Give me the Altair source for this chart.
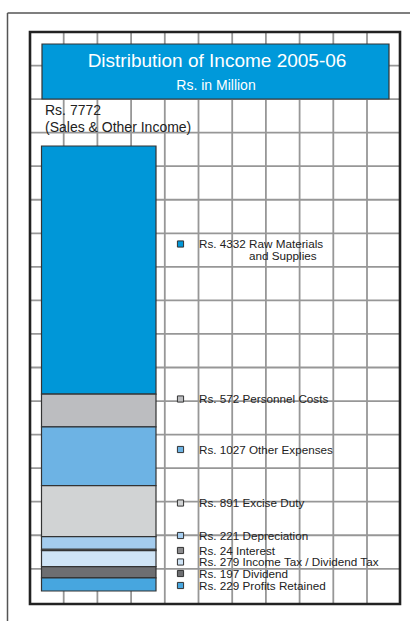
import altair as alt
import pandas as pd

# ---------------- data ----------------
names = ["Raw Materials", "Personnel Costs", "Other Expenses", "Excise Duty",
         "Depreciation", "Interest", "Income Tax / Dividend Tax", "Dividend",
         "Profits Retained"]
values = [4332, 572, 1027, 891, 221, 24, 279, 197, 229]
colors = ["#0097D8", "#BCBDC0", "#6DB3E4", "#D1D3D4", "#A4CCEE",
          "#8C8C8E", "#CFE4F6", "#6D6E71", "#47A6DF"]
total = 7772
title_text = "Distribution of Income 2005-06"
subtitle_text = "Rs. in Million"
total_lines = ["Rs. 7772", "(Sales & Other Income)"]
extra_line = "and Supplies"

# ---------------- layout (pixels) ----------------
W, H = 410, 621
FONT = "Liberation Sans"
label_y = [244, 399, 449.5, 503, 535.5, 550.5, 562, 573.5, 585.5]
grid_x = [30 + 33.7 * i for i in range(1, 11)]
grid_y = [32 + 33.55 * j for j in range(1, 17)]

# stacked segments (top of chart = first item)
rows = []
for i, (n, v) in enumerate(zip(names, values)):
    y0 = sum(values[i + 1:])
    rows.append({"name": n, "value": v, "y0": y0, "y1": y0 + v,
                 "label": f"Rs. {v} {n}", "ly": label_y[i]})
df = pd.DataFrame(rows)

one = pd.DataFrame({"a": [0]})
color_enc = alt.Color("name:N", scale=alt.Scale(domain=names, range=colors), legend=None)

outer_v = alt.Chart(one).mark_rule(color="#555", strokeWidth=1.5).encode(
    x=alt.value(7.5), y=alt.value(13), y2=alt.value(H))
outer_h = alt.Chart(one).mark_rule(color="#555", strokeWidth=1.5).encode(
    x=alt.value(7.5), x2=alt.value(W), y=alt.value(13))

gx = alt.Chart(pd.DataFrame({"gx": grid_x})).mark_rule(color="#979797", strokeWidth=1.8).encode(
    x=alt.X("gx:Q", scale=None), y=alt.value(32), y2=alt.value(604))
gy = alt.Chart(pd.DataFrame({"gy": grid_y})).mark_rule(color="#979797", strokeWidth=1.8).encode(
    y=alt.Y("gy:Q", scale=None), x=alt.value(30), x2=alt.value(400))

inner = alt.Chart(one).mark_rect(fillOpacity=0, stroke="#222", strokeWidth=2.6).encode(
    x=alt.value(30), x2=alt.value(400), y=alt.value(32), y2=alt.value(604))

tbox = alt.Chart(one).mark_rect(fill="#0099DA", stroke="#333", strokeWidth=1.2).encode(
    x=alt.value(42), x2=alt.value(389), y=alt.value(44), y2=alt.value(99))

t1 = alt.Chart(one).mark_text(text=title_text, font=FONT, fontSize=19, color="white",
                              align="center", baseline="alphabetic").encode(
    x=alt.value(217), y=alt.value(67))
t2 = alt.Chart(one).mark_text(text=subtitle_text, font=FONT, fontSize=14, color="white",
                              align="center", baseline="alphabetic").encode(
    x=alt.value(216), y=alt.value(90))

tot1 = alt.Chart(one).mark_text(text=total_lines[0], font=FONT, fontSize=14, color="#222",
                                align="left", baseline="alphabetic").encode(
    x=alt.value(45), y=alt.value(115))
tot2 = alt.Chart(one).mark_text(text=total_lines[1], font=FONT, fontSize=14, color="#222",
                                align="left", baseline="alphabetic").encode(
    x=alt.value(45), y=alt.value(131.5))

bars = alt.Chart(df).mark_bar(stroke="#333", strokeWidth=1.2).encode(
    x=alt.value(41.5), x2=alt.value(156),
    y=alt.Y("y1:Q", scale=alt.Scale(domain=[0, total], range=[591, 146], nice=False, zero=False),
            axis=None),
    y2="y0:Q",
    color=color_enc)

markers = alt.Chart(df).mark_square(size=38, stroke="#333", strokeWidth=1, opacity=1).encode(
    x=alt.value(180.5), y=alt.Y("ly:Q", scale=None), color=color_enc)

labels = alt.Chart(df).mark_text(font=FONT, fontSize=11.7, color="#222",
                                 align="left", baseline="alphabetic", dy=4).encode(
    x=alt.value(199), y=alt.Y("ly:Q", scale=None), text="label:N")

extra = alt.Chart(one).mark_text(text=extra_line, font=FONT, fontSize=11.7, color="#222",
                                 align="left", baseline="alphabetic").encode(
    x=alt.value(249), y=alt.value(259.5))

chart = alt.layer(outer_v, outer_h, gx, gy, inner, tbox, t1, t2, bars, tot1, tot2,
                  markers, labels, extra).resolve_scale(
    x="independent", y="independent").properties(
    width=W, height=H, autosize=alt.AutoSizeParams(type="none"), padding=0,
    background="white").configure_view(stroke=None)

chart.save("out.html", embed_options={"renderer": "svg", "actions": False})
